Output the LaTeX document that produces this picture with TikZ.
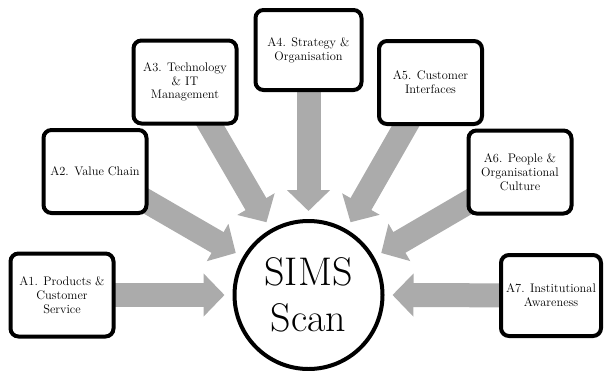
\documentclass[tikz,border=0pt]{standalone}
\usetikzlibrary{arrows.meta,backgrounds}
\definecolor{arrowgray}{RGB}{171,171,171}
\begin{document}
\begin{tikzpicture}[x=1pt,y=-1pt,
  box/.style={draw=black, line width=4pt, rounded corners=8pt, fill=white,
    minimum width=103pt, minimum height=83pt, align=center, inner sep=2pt,
    font=\fontsize{12.4}{13.8}\selectfont},
  bigarrow/.style={draw=arrowgray, line width=24pt,
    -{Triangle[length=21pt,width=42pt]}},
  hub/.style={circle, draw=black, line width=4pt, fill=white,
    minimum size=148pt, inner sep=0pt, align=center,
    font=\fontsize{40}{46}\selectfont}]
\useasboundingbox (0,0) rectangle (604,370);

\node[hub] (c) at (308.5,295) {SIMS\\Scan};

\node[box] (a1) at (62,295) {A1. Products \&\\Customer\\Service};
\node[box] (a2) at (95,171.5) {A2. Value Chain};
\node[box] (a3) at (185,82) {A3. Technology\\\& IT\\Management};
\node[box, minimum width=106pt, minimum height=80pt] (a4) at (308.5,50) {A4. Strategy \&\\Organisation};
\node[box] (a5) at (430.5,82.5) {A5. Customer\\Interfaces};
\node[box] (a6) at (520,172) {A6. People \&\\Organisational\\Culture};
\node[box, minimum width=100pt, minimum height=81pt] (a7) at (551,295.5) {A7. Institutional\\Awareness};

\coordinate (t1) at (224.5,295);
\coordinate (t2) at (235.75,253);
\coordinate (t3) at (266.5,222.25);
\coordinate (t4) at (308.5,211);
\coordinate (t5) at (350.5,222.25);
\coordinate (t6) at (381.25,253);
\coordinate (t7) at (392.5,295);

\begin{scope}[on background layer]
\draw[bigarrow] (a1.center) -- (t1);
\draw[bigarrow] (a2.center) -- (t2);
\draw[bigarrow] (a3.center) -- (t3);
\draw[bigarrow] (a4.center) -- (t4);
\draw[bigarrow] (a5.center) -- (t5);
\draw[bigarrow] (a6.center) -- (t6);
\draw[bigarrow] (a7.center) -- (t7);
\end{scope}
\end{tikzpicture}
\end{document}
